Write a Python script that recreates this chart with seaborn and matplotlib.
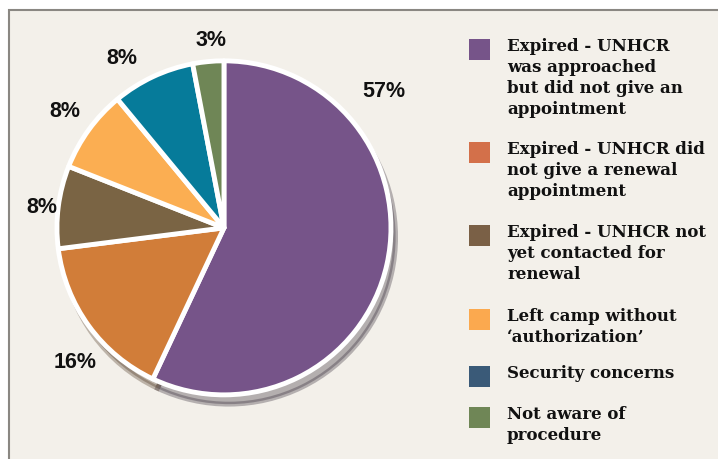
import matplotlib.pyplot as plt
import seaborn as sns
from matplotlib.patches import Rectangle

categories = [
    "Expired - UNHCR\nwas approached\nbut did not give an\nappointment",
    "Expired - UNHCR did\nnot give a renewal\nappointment",
    "Expired - UNHCR not\nyet contacted for\nrenewal",
    "Left camp without\n\u2018authorization\u2019",
    "Security concerns",
    "Not aware of\nprocedure",
]
shares = [57, 16, 8, 8, 8, 3]
pie_colors = ["#765489", "#d17d39", "#7a6444", "#fbae52", "#067b9a", "#6f8656"]
legend_colors = ["#765489", "#d3704a", "#7a6046", "#fba94f", "#3a5a78", "#6f8656"]

# label spots in pie units (radius = 1), placed as in the original
label_pos = [(0.96, 0.82), (-0.89, -0.80), (-1.09, 0.13), (-0.95, 0.70), (-0.61, 1.02), (-0.08, 1.13)]

sns.set_style("white")
bg = "#f3f0ea"

fig = plt.figure(figsize=(7.18, 4.60), dpi=100)
fig.patch.set_facecolor("white")
frame = Rectangle((9 / 718, -0.01), 1, 1 - 11 / 460 + 0.01, transform=fig.transFigure,
                  facecolor=bg, edgecolor="#8a8782", linewidth=1.5, zorder=-10)
fig.patches.append(frame)

ax = fig.add_axes([0.0, 0.0, 0.635, 0.94])
ax.set_facecolor("none")
wedges, _ = ax.pie(shares, colors=pie_colors, startangle=90, counterclock=False,
                   radius=1.0,
                   wedgeprops=dict(edgecolor="white", linewidth=3.5, joinstyle="round"),
                   shadow=dict(ox=0.02, oy=-0.04, shade=0.7, alpha=0.3))
ax.set_aspect("equal")
ax.set_xlim(-1.341, 1.389)
ax.set_ylim(-1.383, 1.204)

for v, (x, y) in zip(shares, label_pos):
    ax.text(x, y, f"{v}%", ha="center", va="center",
            fontsize=15.5, fontweight="bold", family="Liberation Sans", color="#111111")

# legend drawn as figure text so the swatch lines up with the first text line
tops = [40, 143, 226, 310, 367, 408]
for lab, col, top in zip(categories, legend_colors, tops):
    fig.patches.append(Rectangle((469 / 718, 1 - (top + 21) / 460), 21 / 718, 21 / 460,
                                 transform=fig.transFigure, facecolor=col, edgecolor="none"))
    fig.text(507 / 718, 1 - (top - 2) / 460, lab, ha="left", va="top",
             fontsize=12, fontweight="bold", family="DejaVu Serif",
             linespacing=1.3, color="#111111")

fig.savefig("out.png", dpi=100, facecolor=fig.get_facecolor())
